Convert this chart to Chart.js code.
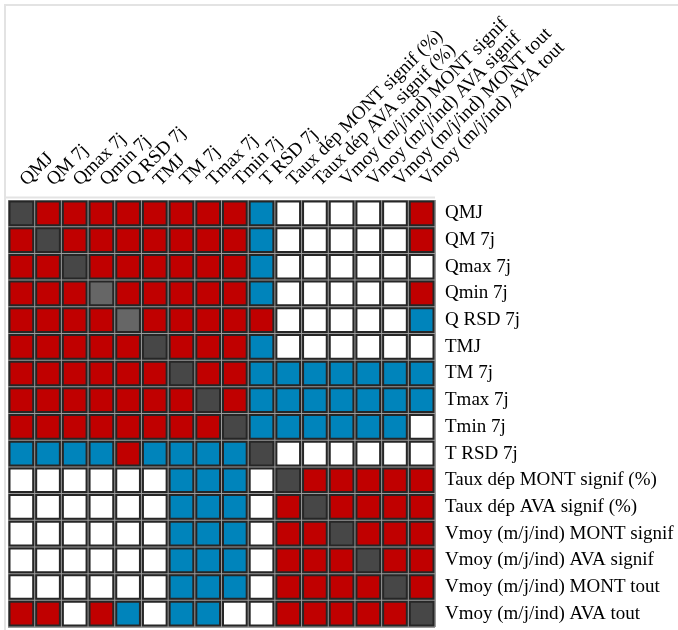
<!DOCTYPE html>
<html>
<head>
<meta charset="utf-8">
<script src="https://cdn.jsdelivr.net/npm/chart.js@4/dist/chart.umd.min.js"></script>
<style>
  html, body { margin: 0; padding: 0; background: #fff; }
  #wrap { position: relative; width: 678px; height: 630px; }
  #frame { position: absolute; left: 4px; top: 4px; right: 0; bottom: 0;
           border-left: 2px solid #e3e3e3; border-top: 2px solid #e3e3e3; pointer-events: none; }
</style>
</head>
<body>
<div id="wrap">
  <canvas id="c" width="678" height="630"></canvas>
  <div id="frame"></div>
</div>
<script>
// Variable names (same for columns and rows)
const variables = [
  "QMJ", "QM 7j", "Qmax 7j", "Qmin 7j", "Q RSD 7j", "TMJ", "TM 7j", "Tmax 7j",
  "Tmin 7j", "T RSD 7j", "Taux dép MONT signif (%)", "Taux dép AVA signif (%)",
  "Vmoy (m/j/ind) MONT signif", "Vmoy (m/j/ind) AVA signif",
  "Vmoy (m/j/ind) MONT tout", "Vmoy (m/j/ind) AVA tout"
];

// Correlation sign codes: 1 = significant positive, -1 = significant negative,
// 0 = not significant, 2 = diagonal, 3 = diagonal (lighter shade)
const signif = [
  [ 2, 1, 1, 1, 1, 1, 1, 1, 1,-1, 0, 0, 0, 0, 0, 1],
  [ 1, 2, 1, 1, 1, 1, 1, 1, 1,-1, 0, 0, 0, 0, 0, 1],
  [ 1, 1, 2, 1, 1, 1, 1, 1, 1,-1, 0, 0, 0, 0, 0, 0],
  [ 1, 1, 1, 3, 1, 1, 1, 1, 1,-1, 0, 0, 0, 0, 0, 1],
  [ 1, 1, 1, 1, 3, 1, 1, 1, 1, 1, 0, 0, 0, 0, 0,-1],
  [ 1, 1, 1, 1, 1, 2, 1, 1, 1,-1, 0, 0, 0, 0, 0, 0],
  [ 1, 1, 1, 1, 1, 1, 2, 1, 1,-1,-1,-1,-1,-1,-1,-1],
  [ 1, 1, 1, 1, 1, 1, 1, 2, 1,-1,-1,-1,-1,-1,-1,-1],
  [ 1, 1, 1, 1, 1, 1, 1, 1, 2,-1,-1,-1,-1,-1,-1, 0],
  [-1,-1,-1,-1, 1,-1,-1,-1,-1, 2, 0, 0, 0, 0, 0, 0],
  [ 0, 0, 0, 0, 0, 0,-1,-1,-1, 0, 2, 1, 1, 1, 1, 1],
  [ 0, 0, 0, 0, 0, 0,-1,-1,-1, 0, 1, 2, 1, 1, 1, 1],
  [ 0, 0, 0, 0, 0, 0,-1,-1,-1, 0, 1, 1, 2, 1, 1, 1],
  [ 0, 0, 0, 0, 0, 0,-1,-1,-1, 0, 1, 1, 1, 2, 1, 1],
  [ 0, 0, 0, 0, 0, 0,-1,-1,-1, 0, 1, 1, 1, 1, 2, 1],
  [ 1, 1, 0, 1,-1, 0,-1,-1, 0, 0, 1, 1, 1, 1, 1, 2]
];

const codeColors = { "1": "#c00000", "-1": "#0084bb", "0": "#ffffff", "2": "#474747", "3": "#666666" };

const cells = [];
signif.forEach((row, r) => row.forEach((v, c) => {
  cells.push({ x: variables[c], y: variables[r], v: v });
}));

const topLine = {
  id: 'topLine',
  beforeDraw(chart) {
    const { ctx, chartArea } = chart;
    ctx.save();
    ctx.strokeStyle = '#e3e3e3';
    ctx.lineWidth = 2;
    ctx.beginPath();
    ctx.moveTo(5, chartArea.top - 2.5);
    ctx.lineTo(chartArea.right, chartArea.top - 2.5);
    ctx.stroke();
    ctx.fillStyle = '#9a9a9a';
    ctx.fillRect(chartArea.left, chartArea.top, chartArea.right - chartArea.left, chartArea.bottom - chartArea.top);
    ctx.restore();
  }
};

const font = { family: "'Liberation Serif', 'Times New Roman', serif", size: 19 };

function cellRadius(ctx) {
  const ca = ctx.chart.chartArea;
  const w = ca ? (ca.right - ca.left) / variables.length : 26.7;
  return (w - 3) / Math.SQRT2;
}

new Chart(document.getElementById('c'), {
  type: 'scatter',
  data: {
    datasets: [{
      data: cells,
      pointStyle: 'rect',
      pointRadius: cellRadius,
      pointHoverRadius: cellRadius,
      pointBackgroundColor: (ctx) => codeColors[String(ctx.raw ? ctx.raw.v : 0)],
      pointBorderColor: '#262626',
      pointBorderWidth: 2,
      pointHoverBorderWidth: 2,
      clip: false
    }]
  },
  options: {
    responsive: false,
    animation: false,
    events: [],
    layout: { autoPadding: false, padding: { left: 8, right: 0, top: 0, bottom: 3 } },
    plugins: { legend: { display: false }, tooltip: { enabled: false } },
    scales: {
      x: {
        type: 'category',
        position: 'top',
        labels: variables,
        offset: true,
        grid: { offset: true, color: '#9a9a9a', drawTicks: false },
        border: { display: false },
        ticks: { color: '#000', font: font, minRotation: 45, maxRotation: 45, padding: 9, labelOffset: 18, autoSkip: false },
        afterFit: (s) => { s.height = 200; s.paddingLeft = 0; s.paddingRight = 0; }
      },
      y: {
        type: 'category',
        position: 'right',
        labels: variables,
        offset: true,
        grid: { offset: true, color: '#9a9a9a', drawTicks: false },
        border: { display: false },
        ticks: { color: '#000', font: font, padding: 10, autoSkip: false },
        afterFit: (s) => { s.width = 243; s.paddingTop = 0; s.paddingBottom = 0; }
      }
    }
  },
  plugins: [topLine]
});
</script>
</body>
</html>
